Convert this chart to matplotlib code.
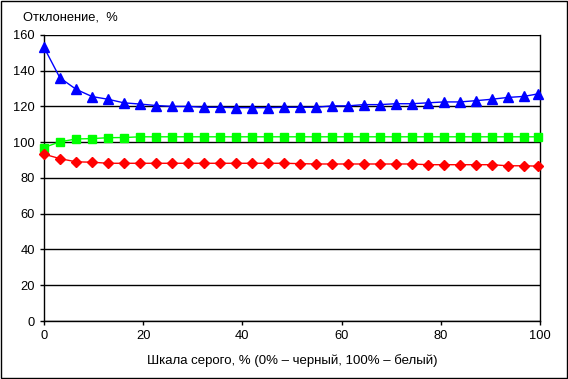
import numpy as np
import matplotlib.pyplot as plt
from matplotlib.patches import Rectangle

plt.rcParams['font.family'] = ['Liberation Sans', 'DejaVu Sans']

# Grey scale positions, % (32 evenly spaced steps)
gray = [0.0, 3.2, 6.5, 9.7, 12.9, 16.1, 19.4, 22.6, 25.8, 29.0, 32.3,
        35.5, 38.7, 41.9, 45.2, 48.4, 51.6, 54.8, 58.1, 61.3, 64.5, 67.7,
        71.0, 74.2, 77.4, 80.6, 83.9, 87.1, 90.3, 93.5, 96.8, 99.6]

blue = [153, 136, 129.5, 125.5, 124, 122, 121.3, 120.5, 120, 120, 119.5,
        119.5, 119.3, 119.3, 119.3, 119.5, 119.5, 119.5, 120.3, 120.3, 121,
        121, 121.5, 121.5, 122, 122.5, 122.5, 123.2, 124, 125, 125.6, 127]

green = [97, 100.2, 101.8, 102, 102.5, 102.6, 103, 103, 103, 103, 103,
         103, 103, 103, 103, 103, 103, 103, 103, 103, 103, 103,
         103, 103, 103, 103, 103, 103, 103, 103, 103, 103]

red = [93.3, 90.8, 89, 88.8, 88.2, 88.2, 88.2, 88.2, 88.2, 88.2, 88.2,
       88.2, 88.2, 88.2, 88.2, 88.2, 88, 87.8, 87.8, 87.8, 87.8, 87.8,
       87.8, 87.8, 87.4, 87.4, 87.4, 87.4, 87.4, 86.8, 86.8, 86.6]

fig = plt.figure(figsize=(5.68, 3.79), dpi=100)
ax = fig.add_axes([0.0775, 0.153, 0.873, 0.755])

ax.plot(gray, blue, color='#0000ff', lw=1, marker='^', ms=7,
        markeredgecolor='#0000ff', clip_on=False, zorder=3)
ax.plot(gray, green, color='#00ff00', lw=1, marker='s', ms=6,
        markeredgecolor='#00ff00', clip_on=False, zorder=3)
ax.plot(gray, red, color='#ff0000', lw=1, marker='D', ms=5,
        markeredgecolor='#ff0000', clip_on=False, zorder=3)

ax.set_xlim(0, 100)
ax.set_ylim(0, 160)
ax.set_xticks(range(0, 101, 20))
ax.set_yticks(range(0, 161, 20))
ax.yaxis.grid(True, color='black', lw=1)
ax.set_axisbelow(True)
ax.tick_params(labelsize=9.3, length=3, width=1, colors='black')
ax.spines['top'].set_visible(False)
for s in ['left', 'bottom', 'right']:
    ax.spines[s].set_linewidth(1)

ax.set_xlabel('Шкала серого, % (0% – черный, 100% – белый)', fontsize=9.5, labelpad=9)
fig.text(0.04, 0.955, 'Отклонение,  %', fontsize=9.3, va='center')

fig.patches.append(Rectangle((0.001, 0.002), 0.997, 0.995, transform=fig.transFigure,
                             fill=False, edgecolor='black', lw=1))

fig.savefig('out.png', dpi=100)
